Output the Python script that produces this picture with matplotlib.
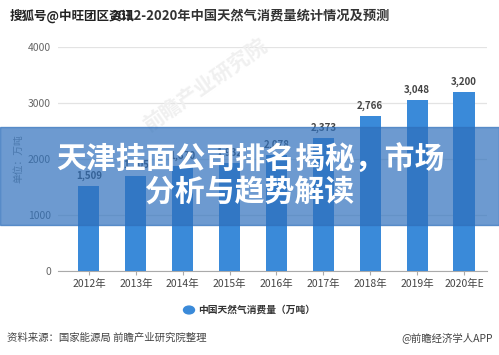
import matplotlib
matplotlib.use("Agg")
import matplotlib.pyplot as plt
from matplotlib.patches import Rectangle

plt.rcParams['font.family'] = ['Noto Sans CJK SC', 'DejaVu Sans']

# data
years = ['2012年', '2013年', '2014年', '2015年', '2016年', '2017年', '2018年', '2019年', '2020年E']
values = [1509, 1705, 1870, 1932, 2078, 2373, 2766, 3048, 3200]
y_ticks = [0, 1000, 2000, 3000, 4000]

W, H = 499, 355
fig = plt.figure(figsize=(W / 100, H / 100), dpi=100)


def fx(px):
    return px / W


def fy(py):
    return 1 - py / H


ax = fig.add_axes([fx(58), fy(271), fx(487) - fx(58), fy(47) - fy(271)])
x = list(range(len(years)))
bars = ax.bar(x, values, width=0.45, color='#3a8ad9', zorder=3)
for xi, v in zip(x, values):
    ax.text(xi, v + 90, f'{v:,}', ha='center', va='bottom', fontsize=7,
            fontweight='bold', color='#444444', zorder=4)

ax.set_xlim(-0.66, 8.49)
ax.set_ylim(0, 4000)
ax.set_yticks(y_ticks)
ax.set_yticklabels([str(t) for t in y_ticks], fontsize=7.5, color='#666666')
ax.set_xticks(x)
ax.set_xticklabels(years, fontsize=7.5, color='#444444')
ax.tick_params(axis='y', length=0, pad=5)
ax.tick_params(axis='x', length=3, color='#aaaaaa', pad=3)
ax.grid(axis='y', color='#e3e3e3', linewidth=0.9, zorder=0)
for s in ['top', 'right', 'left']:
    ax.spines[s].set_visible(False)
ax.spines['bottom'].set_color('#aaaaaa')
ax.set_ylabel('单位：万吨', fontsize=7, color='#888888', labelpad=3)

# faint watermark
fig.text(fx(205), fy(85), '前瞻产业研究院', fontsize=15, color='#f0f0f0',
         rotation=35, ha='center', va='center', fontweight='bold', zorder=1)

# title and watermark text
fig.text(fx(250), fy(16), '2012-2020年中国天然气消费量统计情况及预测', fontsize=9.5,
         color='#333333', ha='center', va='center', fontweight='bold')
fig.text(fx(10), fy(16), '搜狐号@中旺团区资讯', fontsize=9, color='#222222',
         ha='left', va='center', fontweight='bold')

# legend
fig.patches.append(plt.Circle((fx(189), fy(310)), 0.011, transform=fig.transFigure,
                              color='#3a8ad9', figure=fig))
fig.text(fx(198), fy(310), '中国天然气消费量（万吨）', fontsize=7, color='#333333',
         ha='left', va='center', fontweight='bold')

# footer
fig.text(fx(7), fy(338), '资料来源：国家能源局 前瞻产业研究院整理', fontsize=7.5,
         color='#444444', ha='left', va='center')
fig.text(fx(493), fy(338), '@前瞻经济学人APP', fontsize=7.5, color='#444444',
         ha='right', va='center')

# overlay banner
fig.patches.append(Rectangle((0, fy(225)), 1, fy(127) - fy(225), transform=fig.transFigure,
                             color='#2f70bc', alpha=0.7, zorder=5, figure=fig))
fig.text(fx(250), fy(160), '天津挂面公司排名揭秘，市场', fontsize=21.5, color='white',
         ha='center', va='center', fontweight='bold', zorder=6)
fig.text(fx(250), fy(193), '分析与趋势解读', fontsize=21.5, color='white',
         ha='center', va='center', fontweight='bold', zorder=6)

fig.savefig('out.png', dpi=100)
